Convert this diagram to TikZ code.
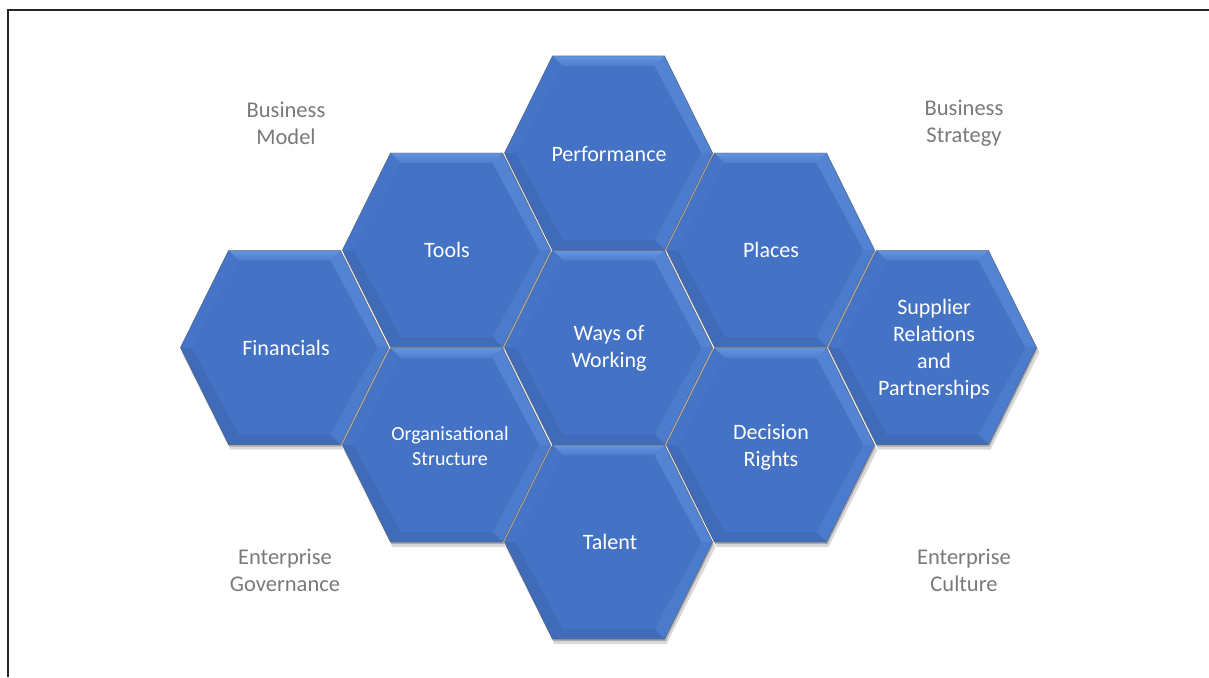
\documentclass[tikz,border=0pt]{standalone}
\usepackage{fontspec}
\setmainfont{Carlito}
\definecolor{hexmain}{HTML}{4472C4}
\definecolor{hextopA}{HTML}{6495DF}
\definecolor{hextopB}{HTML}{4E7DCD}
\definecolor{hexur}{HTML}{5383D3}
\definecolor{hexlr}{HTML}{4B7BCC}
\definecolor{hexbot}{HTML}{416CBA}
\definecolor{hexll}{HTML}{406BB9}
\definecolor{hexul}{HTML}{4674C6}
\definecolor{labelgrey}{HTML}{7A7A7A}
\definecolor{seam}{HTML}{5A5F6A}
\tikzset{
  hexlabel/.style={text=white, align=center, inner sep=0pt, font=\fontsize{22}{27}\selectfont},
  smalllabel/.style={hexlabel, font=\fontsize{20}{25}\selectfont},
  greylabel/.style={text=labelgrey, align=center, inner sep=0pt, font=\fontsize{22.5}{27}\selectfont},
  frameline/.style={line width=1.4pt, draw=black!85},
}
\newcommand\hexcell[2]{%
  \begin{scope}[shift={(#1,#2)}]
    \fill[black, opacity=0.15] (-103,5) -- (-54,-93) -- (58,-93) -- (107,5) -- (58,102) -- (-54,102) -- cycle;
    \fill[black, opacity=0.22] (-103,2) -- (-55,-95) -- (57,-95) -- (105,2) -- (57,99) -- (-55,99) -- cycle;
    \fill[hexmain] (-104,0) -- (-56,-97) -- (56,-97) -- (104,0) -- (56,97) -- (-56,97) -- cycle;
    \shade[top color=hextopA, bottom color=hextopB] (-56,-97) -- (56,-97) -- (46,-87) -- (-46,-87) -- cycle;
    \fill[hexur] (56,-97) -- (104,0) -- (93,0) -- (46,-87) -- cycle;
    \fill[hexlr] (104,0) -- (56,97) -- (46,87) -- (93,0) -- cycle;
    \fill[hexbot] (56,97) -- (-56,97) -- (-46,87) -- (46,87) -- cycle;
    \fill[hexll] (-56,97) -- (-104,0) -- (-93,0) -- (-46,87) -- cycle;
    \fill[hexul] (-104,0) -- (-56,-97) -- (-46,-87) -- (-93,0) -- cycle;
    \draw[seam, line width=0.7pt, opacity=0.55] (-104,0) -- (-56,-97) -- (56,-97) -- (104,0) -- (56,97) -- (-56,97) -- cycle;
  \end{scope}}
\begin{document}
\begin{tikzpicture}[x=1pt, y=-1pt]
\useasboundingbox (0,0) rectangle (1209,677);
\fill[white] (0,0) rectangle (1209,677);
\coordinate (fTL) at (8,10);
\coordinate (fTR) at (1209,10);
\coordinate (fBL) at (8,677);
\draw[frameline] (fBL) -- (fTL) -- (fTR);

% hexagon tiles
\hexcell{608.5}{153}
\hexcell{446.5}{250}
\hexcell{770.5}{250}
\hexcell{608.5}{347.5}
\hexcell{284.5}{347.5}
\hexcell{932.5}{347.5}
\hexcell{446.5}{445}
\hexcell{770.5}{445}
\hexcell{608.5}{542}

% labels in tiles
\node[hexlabel] (perf) at (609,154) {Performance};
\node[hexlabel] (tools) at (447,250) {Tools};
\node[hexlabel] (places) at (771,250) {Places};
\node[hexlabel] (ways) at (609,348) {Ways of\\Working};
\node[hexlabel] (fin) at (286,348) {Financials};
\node[hexlabel] (supp) at (934,349) {Supplier\\Relations\\and\\Partnerships};
\node[smalllabel] (org) at (450,446) {Organisational\\Structure};
\node[hexlabel] (dec) at (771,447) {Decision\\Rights};
\node[hexlabel] (tal) at (610,542) {Talent};

% grey corner labels
\node[greylabel] (bm) at (286,123) {Business\\Model};
\node[greylabel] (bs) at (964,123) {Business\\Strategy};
\node[greylabel] (eg) at (285,570) {Enterprise\\Governance};
\node[greylabel] (ec) at (964,570) {Enterprise\\Culture};
\end{tikzpicture}
\end{document}
